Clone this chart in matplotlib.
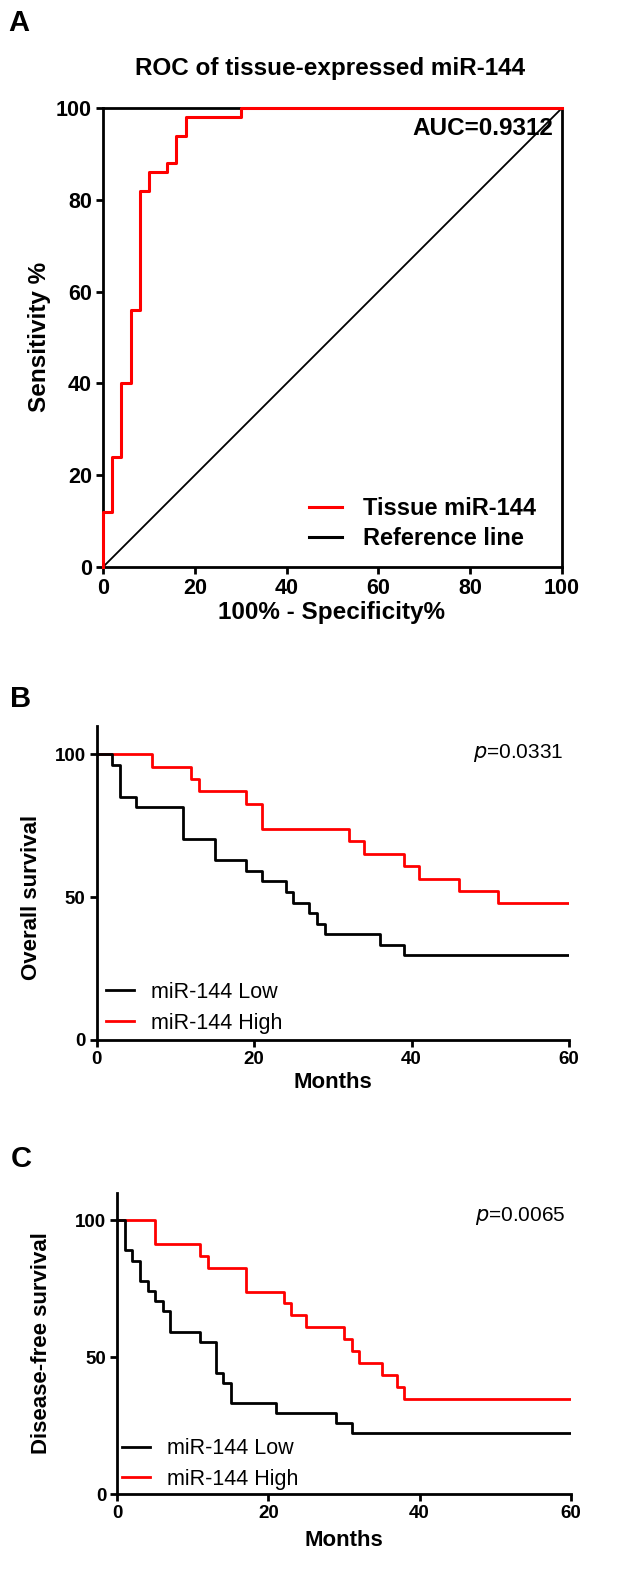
import matplotlib
matplotlib.use("Agg")
import matplotlib.pyplot as plt

plt.rcParams['font.family'] = ['Liberation Sans', 'DejaVu Sans']

# ROC curve (percent)
roc_fpr = [0, 0, 2, 2, 4, 4, 6, 6, 8, 8, 10, 10, 14, 14, 16, 16, 18, 18, 30, 30, 100]
roc_tpr = [0, 12, 12, 24, 24, 40, 40, 56, 56, 82, 82, 86, 86, 88, 88, 94, 94, 98, 98, 100, 100]
ref_x = [0, 100]
ref_y = [0, 100]
auc_text = "AUC=0.9312"

# overall survival (panel B)
os_low_t = [0, 2, 3, 5, 11, 15, 19, 21, 24, 25, 27, 28, 29, 36, 39, 60]
os_low_s = [100, 96.3, 85.2, 81.5, 70.4, 63.0, 59.3, 55.6, 51.9, 48.1, 44.4, 40.7, 37.0, 33.3, 29.6, 29.6]
os_high_t = [0, 7, 12, 13, 19, 21, 32, 34, 39, 41, 46, 51, 60]
os_high_s = [100, 95.7, 91.3, 87.0, 82.6, 73.9, 69.6, 65.2, 60.9, 56.5, 52.2, 47.8, 47.8]
os_p = "0.0331"

# disease-free survival (panel C)
dfs_low_t = [0, 1, 2, 3, 4, 5, 6, 7, 11, 13, 14, 15, 21, 29, 31, 60]
dfs_low_s = [100, 88.9, 85.2, 77.8, 74.1, 70.4, 66.7, 59.3, 55.6, 44.4, 40.7, 33.3, 29.6, 25.9, 22.2, 22.2]
dfs_high_t = [0, 5, 11, 12, 17, 22, 23, 25, 30, 31, 32, 35, 37, 38, 60]
dfs_high_s = [100, 91.3, 87.0, 82.6, 73.9, 69.6, 65.2, 60.9, 56.5, 52.2, 47.8, 43.5, 39.1, 34.8, 34.8]
dfs_p = "0.0065"

W, H = 630, 1575
fig = plt.figure(figsize=(W/100, H/100), dpi=100)

def rect(l, t, r, b):
    return [l/W, 1-b/H, (r-l)/W, (b-t)/H]

def ftext(x, y, s, **kw):
    fig.text(x/W, 1-y/H, s, ha='center', va='center', **kw)

# ---- A: ROC ----
ax = fig.add_axes(rect(103, 108, 562, 567))
ax.plot(ref_x, ref_y, color='black', lw=1.3, label='Reference line', zorder=2)
ax.plot(roc_fpr, roc_tpr, color='red', lw=2.2, label='Tissue miR-144', clip_on=False, zorder=3)
ax.set_xlim(0, 100)
ax.set_ylim(0, 100)
ax.set_xticks(range(0, 101, 20))
ax.set_yticks(range(0, 101, 20))
for sp in ax.spines.values():
    sp.set_linewidth(2.0)
ax.tick_params(direction='out', length=5, width=2.0, labelsize=15.5, pad=3)
for lb in ax.get_xticklabels() + ax.get_yticklabels():
    lb.set_fontweight('bold')
ax.text(98, 95.5, auc_text, ha='right', va='center', fontsize=17.5, fontweight='bold')
h, l = ax.get_legend_handles_labels()
leg = ax.legend(h[::-1], l[::-1], loc='lower right', bbox_to_anchor=(0.98, 0.0), frameon=False,
                prop={'size': 17, 'weight': 'bold'}, handlelength=1.4, handletextpad=0.9,
                labelspacing=0.3, borderpad=0.2)
for line in leg.get_lines():
    line.set_linewidth(2.2)
ftext(19, 23, "A", fontsize=21, fontweight='bold')
ftext(330, 68, "ROC of tissue-expressed miR-144", fontsize=17.5, fontweight='bold')
ftext(332, 612, "100% - Specificity%", fontsize=17.5, fontweight='bold')
ftext(40, 337, "Sensitivity %", fontsize=17.5, fontweight='bold', rotation=90)

# ---- B and C: Kaplan-Meier ----
def km_panel(r, lt, ls, ht, hs, ptxt, py, leg_xy):
    ax = fig.add_axes(r)
    ax.step(ht, hs, where='post', color='red', lw=2.0, label='miR-144 High', zorder=2)
    ax.step(lt, ls, where='post', color='black', lw=2.0, label='miR-144 Low', zorder=3)
    ax.set_xlim(0, 60)
    ax.set_ylim(0, 110)
    ax.set_xticks([0, 20, 40, 60])
    ax.set_yticks([0, 50, 100])
    ax.spines['top'].set_visible(False)
    ax.spines['right'].set_visible(False)
    ax.spines['left'].set_linewidth(2.0)
    ax.spines['bottom'].set_linewidth(2.0)
    ax.tick_params(direction='out', length=5, width=2.0, labelsize=13.5, pad=3)
    for lb in ax.get_xticklabels() + ax.get_yticklabels():
        lb.set_fontweight('bold')
    ax.text(59.3, py, "$\\it{p}$=" + ptxt, ha='right', va='center', fontsize=15)
    h, l = ax.get_legend_handles_labels()
    ax.legend(h[::-1], l[::-1], loc='lower left', bbox_to_anchor=leg_xy, frameon=False,
              fontsize=15.5, handlelength=1.3, handletextpad=0.8, labelspacing=0.45,
              borderaxespad=0, borderpad=0)
    return ax

km_panel(rect(96.7, 725.7, 569, 1040), os_low_t, os_low_s, os_high_t, os_high_s, os_p,
         100.5, (0.02, 0.02))
ftext(21, 699, "B", fontsize=21, fontweight='bold')
ftext(333, 1083, "Months", fontsize=16, fontweight='bold')
ftext(32, 897, "Overall survival", fontsize=16, fontweight='bold', rotation=90)

km_panel(rect(117.3, 1192.6, 570.7, 1494.3), dfs_low_t, dfs_low_s, dfs_high_t, dfs_high_s, dfs_p,
         101.5, (0.01, 0.015))
ftext(21, 1159, "C", fontsize=21, fontweight='bold')
ftext(344, 1540, "Months", fontsize=16, fontweight='bold')
ftext(42, 1343, "Disease-free survival", fontsize=16, fontweight='bold', rotation=90)

fig.savefig("out.png", dpi=100)
